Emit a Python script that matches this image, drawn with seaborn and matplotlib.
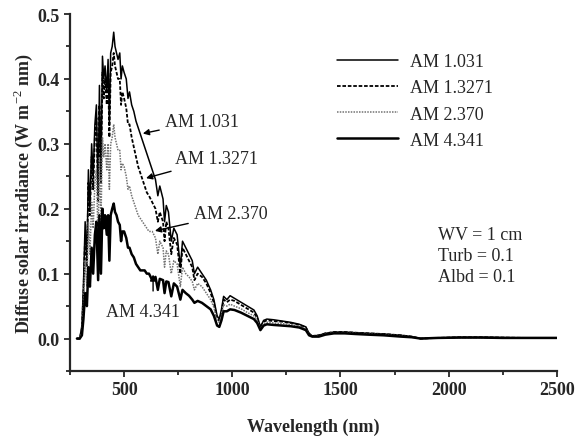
import matplotlib
matplotlib.use("Agg")
import matplotlib.pyplot as plt
import seaborn as sns
import pandas as pd
from matplotlib.ticker import MultipleLocator, FormatStrFormatter

sns.set_style("ticks")
plt.rcParams['font.family'] = ['Liberation Serif', 'DejaVu Serif']
plt.rcParams['mathtext.fontset'] = 'custom'
plt.rcParams['mathtext.rm'] = 'Liberation Serif'
plt.rcParams['mathtext.bf'] = 'Liberation Serif:bold'

wavelength = [282, 295, 305, 312, 320, 328, 335, 342, 350, 357,
              365, 372, 380, 386, 393, 400, 406, 412, 420, 426,
              432, 438, 445, 452, 458, 465, 472, 480, 486, 492,
              500, 510, 518, 525, 535, 545, 555, 565, 575, 585,
              595, 605, 615, 630, 645, 656, 665, 680, 687, 695,
              705, 718, 730, 745, 760, 770, 785, 800, 815, 825,
              840, 860, 880, 900, 915, 930, 940, 950, 960, 975,
              990, 1010, 1040, 1070, 1100, 1115, 1130, 1145, 1160, 1190,
              1230, 1270, 1310, 1340, 1355, 1370, 1400, 1430, 1470, 1520,
              1570, 1630, 1700, 1780, 1830, 1870, 1950, 2050, 2150, 2250,
              2350, 2450, 2500]

am_1031 = [0.0, 0.0, 0.02, 0.08, 0.18, 0.12, 0.26, 0.20, 0.30, 0.25,
           0.33, 0.36, 0.22, 0.39, 0.25, 0.435, 0.40, 0.42, 0.38, 0.43,
           0.33, 0.44, 0.45, 0.472, 0.45, 0.44, 0.43, 0.44, 0.40, 0.42,
           0.41, 0.40, 0.37, 0.38, 0.36, 0.35, 0.335, 0.325, 0.315, 0.305,
           0.295, 0.285, 0.275, 0.26, 0.245, 0.22, 0.235, 0.215, 0.18, 0.205,
           0.195, 0.15, 0.17, 0.16, 0.11, 0.15, 0.14, 0.13, 0.12, 0.10,
           0.11, 0.10, 0.09, 0.075, 0.06, 0.035, 0.03, 0.045, 0.065, 0.06,
           0.066, 0.062, 0.056, 0.05, 0.044, 0.035, 0.018, 0.028, 0.03, 0.029,
           0.027, 0.025, 0.022, 0.018, 0.008, 0.004, 0.005, 0.008, 0.01, 0.01,
           0.009, 0.008, 0.007, 0.005, 0.003, 0.0, 0.001, 0.002, 0.002, 0.0015,
           0.001, 0.001, 0.001]

am_13271 = [0.0, 0.0, 0.015, 0.07, 0.16, 0.11, 0.24, 0.19, 0.28, 0.23,
            0.31, 0.34, 0.21, 0.36, 0.24, 0.41, 0.37, 0.40, 0.36, 0.41,
            0.31, 0.41, 0.42, 0.44, 0.42, 0.41, 0.40, 0.40, 0.36, 0.38,
            0.37, 0.355, 0.33, 0.33, 0.31, 0.295, 0.28, 0.265, 0.255, 0.245,
            0.235, 0.225, 0.22, 0.21, 0.20, 0.18, 0.195, 0.18, 0.15, 0.18,
            0.17, 0.13, 0.155, 0.145, 0.10, 0.14, 0.13, 0.12, 0.11, 0.09,
            0.10, 0.095, 0.085, 0.07, 0.055, 0.03, 0.028, 0.04, 0.06, 0.056,
            0.06, 0.058, 0.052, 0.046, 0.04, 0.032, 0.017, 0.026, 0.028, 0.027,
            0.026, 0.024, 0.021, 0.017, 0.007, 0.004, 0.005, 0.008, 0.01, 0.01,
            0.009, 0.008, 0.007, 0.005, 0.003, 0.0, 0.001, 0.002, 0.002, 0.0015,
            0.001, 0.001, 0.001]

am_2370 = [0.0, 0.0, 0.01, 0.05, 0.12, 0.08, 0.18, 0.13, 0.21, 0.17,
           0.24, 0.26, 0.15, 0.28, 0.18, 0.31, 0.28, 0.30, 0.26, 0.30,
           0.23, 0.30, 0.31, 0.33, 0.31, 0.30, 0.29, 0.29, 0.26, 0.27,
           0.265, 0.25, 0.23, 0.235, 0.22, 0.21, 0.20, 0.19, 0.185, 0.18,
           0.175, 0.17, 0.165, 0.165, 0.155, 0.13, 0.15, 0.14, 0.11, 0.135,
           0.13, 0.10, 0.12, 0.115, 0.08, 0.11, 0.10, 0.095, 0.088, 0.075,
           0.085, 0.08, 0.07, 0.06, 0.048, 0.028, 0.025, 0.035, 0.052, 0.05,
           0.053, 0.05, 0.046, 0.04, 0.035, 0.028, 0.015, 0.023, 0.025, 0.024,
           0.023, 0.022, 0.019, 0.015, 0.006, 0.003, 0.004, 0.007, 0.009, 0.009,
           0.008, 0.007, 0.006, 0.004, 0.002, 0.0, 0.001, 0.0015, 0.0015, 0.001,
           0.001, 0.001, 0.001]

am_4341 = [0.0, 0.0, 0.005, 0.03, 0.07, 0.05, 0.11, 0.08, 0.14, 0.10,
           0.16, 0.18, 0.09, 0.19, 0.10, 0.20, 0.17, 0.19, 0.16, 0.19,
           0.12, 0.19, 0.20, 0.208, 0.195, 0.19, 0.18, 0.175, 0.15, 0.165,
           0.165, 0.155, 0.14, 0.14, 0.13, 0.125, 0.115, 0.11, 0.105, 0.105,
           0.105, 0.10, 0.10, 0.09, 0.095, 0.075, 0.092, 0.09, 0.07, 0.088,
           0.087, 0.065, 0.085, 0.08, 0.06, 0.075, 0.07, 0.066, 0.06, 0.055,
           0.058, 0.055, 0.05, 0.045, 0.035, 0.02, 0.018, 0.028, 0.042, 0.042,
           0.045, 0.044, 0.04, 0.035, 0.03, 0.024, 0.013, 0.02, 0.022, 0.021,
           0.02, 0.019, 0.017, 0.013, 0.005, 0.003, 0.003, 0.006, 0.008, 0.008,
           0.007, 0.006, 0.005, 0.003, 0.002, 0.0, 0.001, 0.0015, 0.0015, 0.001,
           0.001, 0.001, 0.001]

series_labels = ["AM 1.031", "AM 1.3271", "AM 2.370", "AM 4.341"]
series_values = [am_1031, am_13271, am_2370, am_4341]
for v in series_values:
    assert len(v) == len(wavelength), len(v)

x_ticks = [500, 1000, 1500, 2000, 2500]
y_ticks = [0.0, 0.1, 0.2, 0.3, 0.4, 0.5]

styles = [
    dict(color="black", lw=1.1, ls="-"),
    dict(color="black", lw=1.3, ls=(0, (2.0, 1.0))),
    dict(color="0.45", lw=1.1, ls=(0, (1.0, 0.8))),
    dict(color="black", lw=1.8, ls="-"),
]

fig = plt.figure(figsize=(5.8, 4.39), dpi=100)
ax = fig.add_axes([0.1207, 0.1526, 0.8393, 0.8132])

for lab, vals, st in zip(series_labels, series_values, styles):
    df = pd.DataFrame({"wl": wavelength, "val": vals})
    sns.lineplot(data=df, x="wl", y="val", ax=ax, color=st["color"],
                 linewidth=st["lw"], linestyle=st["ls"], label=lab)

ax.set_xlim(250, 2500)
ax.set_ylim(-0.05, 0.5)
ax.set_xticks(x_ticks)
ax.set_yticks(y_ticks)
ax.xaxis.set_minor_locator(MultipleLocator(250))
ax.yaxis.set_minor_locator(MultipleLocator(0.05))
ax.yaxis.set_major_formatter(FormatStrFormatter("%.1f"))
ax.tick_params(which="both", direction="out", width=1.3, length=4, labelsize=13)
ax.tick_params(which="minor", length=3)
for lbl in ax.get_xticklabels() + ax.get_yticklabels():
    lbl.set_fontweight("bold")

for side in ["top", "right"]:
    ax.spines[side].set_visible(False)
for side in ["left", "bottom"]:
    ax.spines[side].set_linewidth(1.6)

ax.set_xlabel("Wavelength (nm)", fontsize=13, fontweight="bold", labelpad=14)
ax.set_ylabel("Diffuse solar irradiance (W m$^{-2}$ nm)", fontsize=13, fontweight="bold", labelpad=2)

h, l = ax.get_legend_handles_labels()
leg = ax.legend(h, l, loc="upper left", bbox_to_anchor=(0.515, 0.935), frameon=False,
                fontsize=13, handlelength=3.4, handletextpad=0.65, labelspacing=0.5)

arrowprops = dict(arrowstyle="-|>", color="black", lw=1.0, mutation_scale=9)
ax.annotate("AM 1.031", xy=(574, 0.315), xytext=(690, 0.335), fontsize=13,
            va="center", ha="left", arrowprops=arrowprops)
ax.annotate("AM 1.3271", xy=(589, 0.246), xytext=(736, 0.277), fontsize=13,
            va="center", ha="left", arrowprops=arrowprops)
ax.annotate("AM 2.370", xy=(630, 0.165), xytext=(824, 0.192), fontsize=13,
            va="center", ha="left", arrowprops=arrowprops)
ax.annotate("", xy=(634, 0.103), xytext=(634, 0.069), arrowprops=arrowprops)
ax.text(417, 0.042, "AM 4.341", fontsize=13, va="center", ha="left")

ax.text(1949, 0.128, "WV = 1 cm\nTurb = 0.1\nAlbd = 0.1", fontsize=13,
        va="center", ha="left", linespacing=1.3)

fig.savefig("out.png", dpi=100)
